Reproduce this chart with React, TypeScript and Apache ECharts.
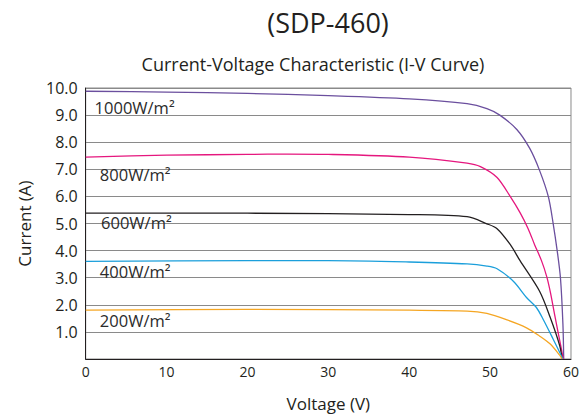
import React, { useEffect, useRef } from "react";
import * as echarts from "echarts";

const voltage1000 = [0, 10, 20, 30, 40, 47.15, 49.6, 51.2, 53.3, 54.9, 56.1, 57.2, 57.8, 58.3, 58.7, 59.0, 59.1];
const current1000 = [9.88, 9.85, 9.8, 9.72, 9.6, 9.42, 9.24, 9.0, 8.47, 7.77, 6.97, 5.99, 4.99, 3.98, 2.98, 1.3, 0];

const voltage800 = [0, 10, 20, 25, 30, 40, 47.15, 48.8, 50.86, 52.5, 53.7, 54.7, 55.5, 56.35, 57.0, 57.46, 58.0, 58.8, 59.05];
const current800 = [7.45, 7.52, 7.55, 7.56, 7.55, 7.45, 7.23, 7.1, 6.7, 5.99, 5.4, 4.81, 4.22, 3.63, 3.04, 2.45, 1.6, 0.39, 0];

const voltage600 = [0, 20, 40, 47.15, 49.6, 50.86, 52.5, 53.7, 56.1, 57.4, 58.6, 58.9];
const current600 = [5.38, 5.38, 5.33, 5.25, 4.99, 4.81, 4.22, 3.63, 2.51, 1.56, 0.5, 0];

const voltage400 = [0, 20, 30, 40, 47.15, 49.6, 50.86, 52.9, 54.5, 55.7, 56.6, 57.8, 59.0];
const current400 = [3.6, 3.63, 3.63, 3.58, 3.51, 3.43, 3.33, 2.86, 2.27, 1.91, 1.44, 0.73, 0];

const voltage200 = [0, 20, 40, 47.15, 49.6, 52.1, 54.5, 56.1, 57.4, 58.6, 58.9];
const current200 = [1.8, 1.83, 1.8, 1.77, 1.68, 1.44, 1.15, 0.85, 0.56, 0.14, 0];

const seriesNames = ["1000W/m²", "800W/m²", "600W/m²", "400W/m²", "200W/m²"];
const seriesColors = ["#6b4f9e", "#e5177e", "#231f20", "#1b9fdb", "#f5a623"];
const labelAnchors: [number, number][] = [
  [1.1, 9.29],
  [1.75, 6.8],
  [1.9, 5.02],
  [1.75, 3.24],
  [1.75, 1.42],
];

const title = "(SDP-460)";
const subtitle = "Current-Voltage Characteristic (I-V Curve)";
const xName = "Voltage (V)";
const yName = "Current (A)";

const FONT = "'Open Sans', 'Noto Sans', sans-serif";

export default function App() {
  const ref = useRef<HTMLDivElement>(null);
  useEffect(() => {
    document.body.style.margin = "0";
    const chart = echarts.init(ref.current!, null, { renderer: "svg" });
    const volts = [voltage1000, voltage800, voltage600, voltage400, voltage200];
    const amps = [current1000, current800, current600, current400, current200];
    chart.setOption({
      animation: false,
      backgroundColor: "#ffffff",
      textStyle: { fontFamily: FONT },
      title: [
        {
          text: title,
          left: 323,
          top: 4,
          textAlign: "center",
          textStyle: { fontSize: 27, fontWeight: "normal", color: "#231f20", fontFamily: FONT },
        },
        {
          text: subtitle,
          left: 308,
          top: 50,
          textAlign: "center",
          textStyle: { fontSize: 18, fontWeight: "normal", color: "#231f20", fontFamily: FONT },
        },
      ],
      grid: {
        left: 85.7,
        right: 7,
        top: 88,
        bottom: 48,
        show: true,
        borderColor: "#8a8a8a",
        borderWidth: 1,
      },
      xAxis: {
        type: "value",
        min: 0,
        max: 60,
        interval: 10,
        name: xName,
        nameLocation: "middle",
        nameGap: 36,
        nameTextStyle: { fontSize: 17, color: "#231f20", fontFamily: FONT },
        axisLine: { show: true, lineStyle: { color: "#231f20", width: 1 } },
        axisTick: { show: false },
        axisLabel: { fontSize: 14, color: "#231f20", margin: 5, fontFamily: FONT },
        splitLine: { show: false },
      },
      yAxis: {
        type: "value",
        min: 0,
        max: 10,
        interval: 1,
        name: yName,
        nameLocation: "middle",
        nameGap: 53,
        nameRotate: 90,
        nameTextStyle: { fontSize: 17, color: "#231f20", fontFamily: FONT },
        axisLine: { show: true, lineStyle: { color: "#231f20", width: 1 } },
        axisTick: { show: false },
        axisLabel: {
          fontSize: 16,
          color: "#231f20",
          margin: 8,
          fontFamily: FONT,
          formatter: (v: number) => (v === 0 ? "" : v.toFixed(1)),
        },
        splitLine: { show: true, lineStyle: { color: "#8a8a8a", width: 1 } },
      },
      series: seriesNames.map((name, i) => ({
        name,
        type: "line",
        data: volts[i].map((v, j) => [v, amps[i][j]]),
        smooth: 0.3,
        symbol: "none",
        lineStyle: { color: seriesColors[i], width: 1.3 },
        z: 3,
        markPoint: {
          symbol: "circle",
          symbolSize: 0,
          silent: true,
          label: {
            show: true,
            position: "right",
            distance: 0,
            formatter: name,
            fontSize: 16.5,
            color: "#2b2b2b",
            fontFamily: FONT,
          },
          data: [{ coord: labelAnchors[i] }],
        },
      })),
    });
    return () => chart.dispose();
  }, []);
  return <div ref={ref} style={{ position: "absolute", left: 0, top: 0, width: 582, height: 417 }} />;
}
